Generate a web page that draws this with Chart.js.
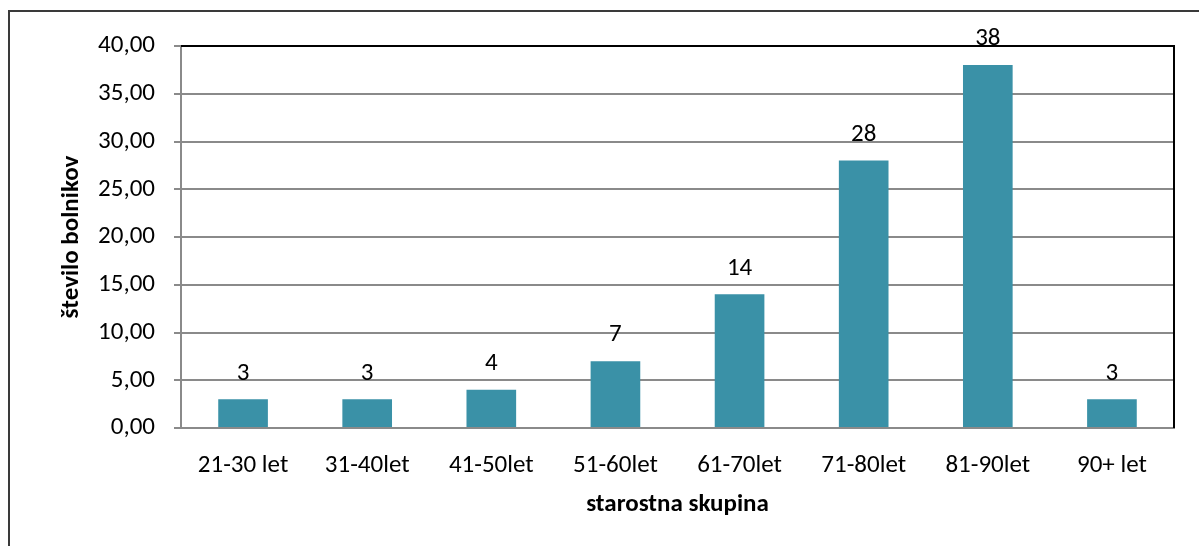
<!DOCTYPE html>
<html>
<head>
<meta charset="utf-8">
<script src="https://cdn.jsdelivr.net/npm/chart.js@4/dist/chart.umd.min.js"></script>
<style>
  html, body { margin: 0; padding: 0; background: #fff; }
  #wrap { width: 1199px; height: 546px; position: relative; }
</style>
</head>
<body>
<div id="wrap"><canvas id="c" width="1199" height="546"></canvas></div>
<script>
// Age groups and number of patients in each
const categories = ['21-30 let', '31-40let', '41-50let', '51-60let', '61-70let', '71-80let', '81-90let', '90+ let'];
const patients = [3, 3, 4, 7, 14, 28, 38, 3];
const yAxisTitle = 'število bolnikov';
const xAxisTitle = 'starostna skupina';

const FONT = 'Carlito, Lato, sans-serif';
const BAR_COLOR = '#3A91A7';

// Outer frame, plot border, value labels and axis titles
const decorations = {
  id: 'decorations',
  afterDraw(chart) {
    const ctx = chart.ctx;
    const area = chart.chartArea;
    ctx.save();

    // outer frame (runs off the right and bottom of the canvas)
    ctx.strokeStyle = '#3a3a3a';
    ctx.lineWidth = 2;
    ctx.beginPath();
    ctx.moveTo(9, chart.height + 5);
    ctx.lineTo(9, 11);
    ctx.lineTo(chart.width + 5, 11);
    ctx.stroke();

    // top and right edges of the plot area
    ctx.strokeStyle = '#000';
    ctx.lineWidth = 2;
    ctx.beginPath();
    ctx.moveTo(area.left, area.top);
    ctx.lineTo(area.right, area.top);
    ctx.lineTo(area.right, area.bottom);
    ctx.stroke();

    // value labels above bars
    ctx.fillStyle = '#000';
    ctx.font = '25px ' + FONT;
    ctx.textAlign = 'center';
    ctx.textBaseline = 'middle';
    const meta = chart.getDatasetMeta(0);
    meta.data.forEach((bar, i) => {
      ctx.fillText(String(chart.data.datasets[0].data[i]), bar.x, bar.y - 26);
    });

    // axis titles
    ctx.font = 'bold 25px ' + FONT;
    ctx.fillText(xAxisTitle, (area.left + area.right) / 2, 505);
    ctx.translate(72, (area.top + area.bottom) / 2);
    ctx.rotate(-Math.PI / 2);
    ctx.fillText(yAxisTitle, 0, 0);
    ctx.restore();
  }
};

new Chart(document.getElementById('c'), {
  type: 'bar',
  data: {
    labels: categories,
    datasets: [{
      data: patients,
      backgroundColor: BAR_COLOR,
      borderWidth: 0,
      categoryPercentage: 1,
      barPercentage: 0.4
    }]
  },
  options: {
    responsive: false,
    animation: false,
    devicePixelRatio: 1,
    layout: { padding: { left: 0, top: 46, right: 25, bottom: 0 } },
    plugins: { legend: { display: false }, tooltip: { enabled: false } },
    scales: {
      x: {
        grid: { display: false },
        border: { display: true, color: '#8a8a8a', width: 2 },
        ticks: { color: '#000', font: { family: FONT, size: 25 }, padding: 15, maxRotation: 0, autoSkip: false },
        afterFit(scale) { scale.height = 118; }
      },
      y: {
        min: 0,
        max: 40,
        grid: { color: '#8a8a8a', lineWidth: 2, tickLength: 7, drawTicks: true },
        border: { display: true, color: '#8a8a8a', width: 2 },
        ticks: {
          stepSize: 5,
          color: '#000',
          font: { family: FONT, size: 25 },
          padding: 19,
          callback: v => v.toFixed(2).replace('.', ',')
        },
        afterFit(scale) { scale.width = 181; }
      }
    }
  },
  plugins: [decorations]
});
</script>
</body>
</html>
